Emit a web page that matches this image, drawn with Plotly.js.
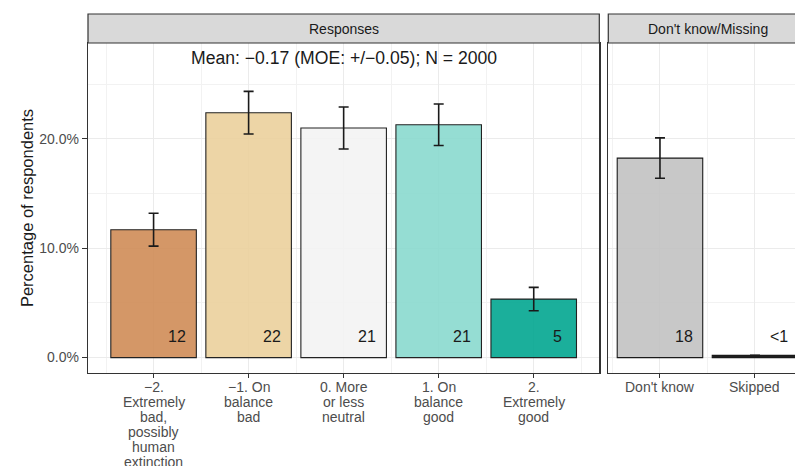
<!DOCTYPE html>
<html>
<head>
<meta charset="utf-8">
<script src="https://cdn.plot.ly/plotly-3.0.1.min.js"></script>
<style>html,body{margin:0;padding:0;background:#fff;}#chart{width:795px;height:466px;}</style>
</head>
<body>
<div id="chart"></div>
<script>
// ---- data ----
const responseCategories = ["−2.\nExtremely\nbad,\npossibly\nhuman\nextinction", "−1. On\nbalance\nbad", "0. More\nor less\nneutral", "1. On\nbalance\ngood", "2.\nExtremely\ngood"];
const responseValues = [11.7, 22.4, 21.0, 21.3, 5.35];
const responseErrors = [1.5, 1.95, 1.92, 1.9, 1.07];
const responseLabels = ["12", "22", "21", "21", "5"];
const missingCategories = ["Don't know", "Skipped"];
const missingValues = [18.25, 0.2];
const missingErrors = [1.85, 0];
const missingLabels = ["18", "<1"];
const yTickValues = [0, 10, 20];
const yTickLabels = ["0.0%", "10.0%", "20.0%"];
const panelTitles = ["Responses", "Don't know/Missing"];
const meanText = "Mean: −0.17 (MOE: +/−0.05); N = 2000";
const yTitle = "Percentage of respondents";

// ---- styling ----
const FONT = "Liberation Sans, Arial, Helvetica, sans-serif";
const responseColors = ["rgba(207,140,87,0.9)", "rgba(235,208,156,0.9)", "rgba(243,243,243,0.9)", "rgba(138,217,206,0.9)", "rgba(2,166,144,0.9)"];
const missingColors = ["rgba(194,194,194,0.9)", "rgba(30,30,30,1)"];
const dom1 = [0, 0.7232];
const dom2 = [0.7359, 1];
const stripH = 29 / 330;

const idx = a => a.map((_, i) => i);

const errStyle = {type: "data", color: "#1a1a1a", thickness: 1.6, width: 5};

const traces = [
  {type: "bar", x: idx(responseValues), y: responseValues, width: 0.9,
   marker: {color: responseColors, line: {color: "#222", width: 1.1}},
   error_y: Object.assign({array: responseErrors}, errStyle),
   xaxis: "x", yaxis: "y", hoverinfo: "none", showlegend: false},
  {type: "bar", x: idx(missingValues), y: missingValues, width: 0.9,
   marker: {color: missingColors, line: {color: "#1a1a1a", width: 1.1}},
   error_y: Object.assign({array: missingErrors}, errStyle),
   xaxis: "x2", yaxis: "y2", hoverinfo: "none", showlegend: false}
];

const gridCommon = {gridcolor: "#ebebeb", gridwidth: 1};
const minorX = {tickmode: "linear", tick0: -0.5, dtick: 1, showgrid: true, gridcolor: "#f2f2f2", gridwidth: 1, ticks: ""};
const minorY = {tickmode: "linear", tick0: 5, dtick: 10, showgrid: true, gridcolor: "#f2f2f2", gridwidth: 1, ticks: ""};

const yRange = [-1.41, 28.78];

const annotations = [];
// bar value labels
responseLabels.forEach((t, i) => annotations.push({xref: "x", yref: "y", x: i + 0.25, y: 1.9, text: t, showarrow: false, xanchor: "center", yanchor: "middle", font: {family: FONT, size: 16, color: "#1a1a1a"}}));
missingLabels.forEach((t, i) => annotations.push({xref: "x2", yref: "y2", x: i + 0.25, y: 1.9, text: t, showarrow: false, xanchor: "center", yanchor: "middle", font: {family: FONT, size: 16, color: "#1a1a1a"}}));
// x tick labels, one annotation per line (tight line spacing)
function addTickLabels(cats, xref) {
  cats.forEach((c, i) => {
    c.split("\n").forEach((line, j) => annotations.push({xref: xref, yref: "paper", x: i, y: 0, text: line, showarrow: false,
      xanchor: "center", yanchor: "middle", yshift: -14 - 15 * j, font: {family: FONT, size: 14, color: "#4d4d4d"}}));
  });
}
addTickLabels(responseCategories, "x");
addTickLabels(missingCategories, "x2");
// mean text
annotations.push({xref: "x", yref: "y", x: 2, y: 27.4, text: meanText, showarrow: false, xanchor: "center", yanchor: "middle", font: {family: FONT, size: 17.6, color: "#1a1a1a"}});
// strip titles
annotations.push({xref: "paper", yref: "paper", x: (dom1[0] + dom1[1]) / 2, y: 1 + stripH / 2, text: panelTitles[0], showarrow: false, xanchor: "center", yanchor: "middle", font: {family: FONT, size: 14, color: "#1a1a1a"}});
annotations.push({xref: "paper", yref: "paper", x: (708 - 88) / 707, y: 1 + stripH / 2, text: panelTitles[1], showarrow: false, xanchor: "center", yanchor: "middle", font: {family: FONT, size: 14, color: "#1a1a1a"}});

const shapes = [
  {type: "rect", xref: "paper", yref: "paper", x0: dom1[0], x1: dom1[1], y0: 1, y1: 1 + stripH, fillcolor: "#d9d9d9", line: {color: "#333", width: 1.2}, layer: "above"},
  {type: "rect", xref: "paper", yref: "paper", x0: dom2[0], x1: 1.02, y0: 1, y1: 1 + stripH, fillcolor: "#d9d9d9", line: {color: "#333", width: 1.2}, layer: "above"}
];

const layout = {
  width: 795, height: 466,
  margin: {l: 88, r: 0, t: 43, b: 93},
  paper_bgcolor: "#fff", plot_bgcolor: "#fff",
  font: {family: FONT, color: "#4d4d4d"},
  bargap: 0,
  showlegend: false,
  xaxis: Object.assign({domain: dom1, range: [-0.69, 4.69], tickvals: idx(responseValues), showticklabels: false,
    ticks: "outside", ticklen: 4, tickcolor: "#333", tickwidth: 1,
    showline: true, mirror: true, linecolor: "#333", linewidth: 1.2, zeroline: false, minor: minorX, fixedrange: true}, gridCommon),
  xaxis2: Object.assign({domain: dom2, range: [-0.544, 1.421], tickvals: idx(missingValues), showticklabels: false,
    ticks: "outside", ticklen: 4, tickcolor: "#333", tickwidth: 1, anchor: "y2",
    showline: true, mirror: true, linecolor: "#333", linewidth: 1.2, zeroline: false, minor: minorX, fixedrange: true}, gridCommon),
  yaxis: Object.assign({range: yRange, tickvals: yTickValues, ticktext: yTickLabels,
    ticks: "outside", ticklen: 5, tickcolor: "#333", tickwidth: 1,
    tickfont: {family: FONT, size: 14, color: "#4d4d4d"},
    showline: true, mirror: true, linecolor: "#333", linewidth: 1.2, zeroline: false, minor: minorY,
    title: {text: yTitle, font: {family: FONT, size: 16.5, color: "#1a1a1a"}, standoff: 1}, automargin: false, fixedrange: true}, gridCommon),
  yaxis2: Object.assign({range: yRange, anchor: "x2", tickvals: yTickValues, showticklabels: false, ticks: "",
    showline: true, mirror: false, linecolor: "#333", linewidth: 1.2, zeroline: false, minor: minorY, fixedrange: true}, gridCommon),
  annotations: annotations,
  shapes: shapes
};

Plotly.newPlot("chart", traces, layout, {displayModeBar: false, staticPlot: true});
</script>
</body>
</html>
